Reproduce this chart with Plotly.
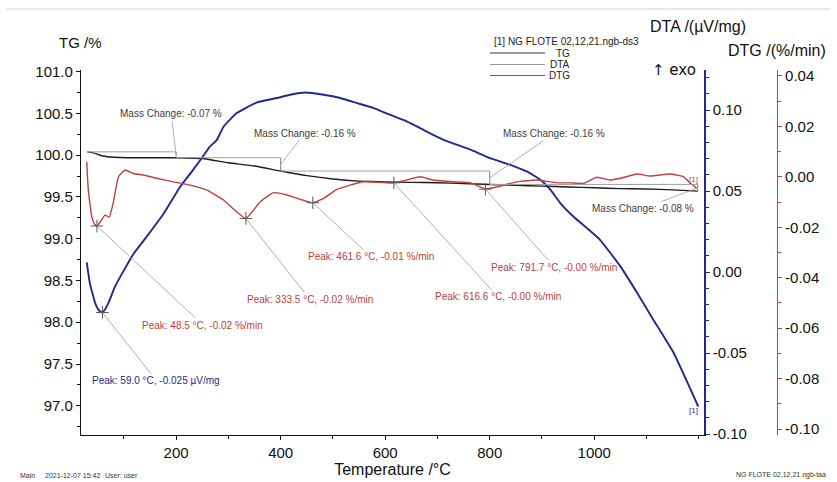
import plotly.graph_objects as go

# ---------------- data ----------------
# TG: mass (%) vs temperature (°C)
tg_temp = [30, 40, 50, 60, 80, 110, 150, 200, 250, 300, 350, 400, 450, 500, 550, 600,
           650, 700, 750, 800, 850, 900, 950, 1000, 1050, 1100, 1150, 1198]
tg_mass = [100.04, 100.03, 100.01, 99.99, 99.975, 99.97, 99.97, 99.97, 99.96, 99.91, 99.87,
           99.81, 99.755, 99.715, 99.69, 99.68, 99.675, 99.67, 99.66, 99.65, 99.64, 99.63,
           99.62, 99.61, 99.60, 99.595, 99.585, 99.57]

# DTA signal (µV/mg)
dta_temp = [29, 35, 45, 52, 59, 66, 72, 83, 99, 118, 144, 176, 208, 230, 246, 265, 278, 291,
            316, 354, 393, 418, 447, 482, 514, 546, 578, 610, 642, 673, 712, 763, 801, 839,
            871, 897, 916, 935, 960, 986, 1011, 1050, 1082, 1113, 1152, 1178, 1199]
dta_signal = [0.006, -0.007, -0.019, -0.0235, -0.025, -0.022, -0.018, -0.009, 0.0004, 0.011,
              0.022, 0.036, 0.0528, 0.062, 0.069, 0.0775, 0.0816, 0.0898, 0.0981, 0.1046,
              0.1074, 0.1094, 0.1108, 0.1094, 0.1074, 0.1043, 0.1012, 0.097, 0.0929, 0.0878,
              0.0816, 0.0755, 0.0703, 0.0662, 0.0621, 0.0569, 0.0508, 0.0426, 0.0343, 0.0271,
              0.0199, 0.0035, -0.0128, -0.0294, -0.050, -0.068, -0.083]

# DTG: rate of mass change (%/min)
dtg_temp = [29, 32, 38.7, 44, 48.5, 56, 64, 72, 80, 89.6, 102, 118, 137, 163, 195, 227, 259,
            290.5, 316, 333.5, 348, 361, 386, 412, 437, 461.6, 482, 507.6, 533, 558, 590,
            616.6, 635, 667, 692, 731, 763, 782, 791.7, 814, 852, 890, 929, 954, 979.5, 1005,
            1031, 1050, 1082, 1107, 1146, 1171, 1184, 1196]
dtg_rate = [0.0059, -0.0053, -0.0158, -0.0188, -0.0195, -0.0175, -0.0152, -0.0160, -0.0100,
            0.0, 0.0027, 0.0013, 0.0007, -0.0006, -0.0020, -0.0033, -0.0053, -0.0092, -0.0139,
            -0.0165, -0.0132, -0.0099, -0.0063, -0.0072, -0.0089, -0.0103, -0.0086, -0.0050,
            -0.0033, -0.0020, -0.0022, -0.0024, -0.0016, 0.0, -0.0013, -0.0020, -0.0024,
            -0.0040, -0.0049, -0.0040, -0.0020, -0.0013, -0.0024, -0.0024, -0.0026, -0.0002,
            -0.0013, -0.0006, 0.0011, 0.0003, 0.0011, 0.0, -0.0026, -0.0045]

# mass-change steps
step_bounds = [30, 200, 400, 800, 1198]
step_start_level = 100.04
step_changes = [-0.07, -0.16, -0.16, -0.08]

# evaluated peaks
dtg_peak_temp = [48.5, 333.5, 461.6, 616.6, 791.7]
dtg_peak_rate = [-0.0195, -0.0165, -0.0103, -0.0024, -0.0049]
dta_peak_temp = [59.0]
dta_peak_signal = [-0.025]

tg_ticks = [97.0, 97.5, 98.0, 98.5, 99.0, 99.5, 100.0, 100.5, 101.0]
dta_ticks = [-0.10, -0.05, 0.00, 0.05, 0.10]
dtg_ticks = [-0.10, -0.08, -0.06, -0.04, -0.02, 0.00, 0.02, 0.04]
temp_ticks = [200, 400, 600, 800, 1000]

# ---------------- styling ----------------
FONT = "Liberation Sans, Arial, sans-serif"
C_TG = "#1c1c1c"
C_DTA = "#23288f"
C_DTG = "#c0403c"

W, H = 837, 482
ML, MR, MT, MB = 81, 40, 70, 47
PW, PH = W - ML - MR, H - MT - MB


def px(x):
    return (x - ML) / PW


def py(y):
    return (H - MB - y) / PH


fig = go.Figure()

fig.add_trace(go.Scatter(x=tg_temp, y=tg_mass, mode="lines", yaxis="y",
                         line=dict(color=C_TG, width=1.4, shape="spline", smoothing=0.4),
                         showlegend=False, hoverinfo="skip"))
fig.add_trace(go.Scatter(x=dta_temp, y=dta_signal, mode="lines", yaxis="y2",
                         line=dict(color=C_DTA, width=1.9, shape="spline", smoothing=0.4),
                         showlegend=False, hoverinfo="skip"))
fig.add_trace(go.Scatter(x=dtg_temp, y=dtg_rate, mode="lines", yaxis="y3",
                         line=dict(color=C_DTG, width=1.4, shape="spline", smoothing=0.4),
                         showlegend=False, hoverinfo="skip"))

# peak cross markers
fig.add_trace(go.Scatter(x=dtg_peak_temp, y=dtg_peak_rate, mode="markers", yaxis="y3",
                         marker=dict(symbol="cross-thin", size=9,
                                     line=dict(color="#555555", width=1)),
                         showlegend=False, hoverinfo="skip"))
fig.add_trace(go.Scatter(x=dta_peak_temp, y=dta_peak_signal, mode="markers", yaxis="y2",
                         marker=dict(symbol="cross-thin", size=9,
                                     line=dict(color="#555555", width=1)),
                         showlegend=False, hoverinfo="skip"))

shapes = []
annotations = []

# mass-change step lines
levels = [step_start_level]
for d in step_changes:
    levels.append(round(levels[-1] + d, 4))
for i, d in enumerate(step_changes):
    x0, x1 = step_bounds[i], step_bounds[i + 1]
    shapes.append(dict(type="line", xref="x", yref="y", x0=x0, x1=x1,
                       y0=levels[i], y1=levels[i], line=dict(color="#a0a0a0", width=1)))
    shapes.append(dict(type="line", xref="x", yref="y", x0=x1, x1=x1,
                       y0=levels[i], y1=levels[i + 1], line=dict(color="#808080", width=1)))

# label offsets (pixels) of the mass-change texts from the step midpoints
mc_offsets = [(-5, -41), (24, -31), (64, -44), (-55, 21)]
for i, d in enumerate(step_changes):
    annotations.append(dict(
        x=step_bounds[i + 1], y=(levels[i] + levels[i + 1]) / 2, xref="x", yref="y",
        text=f"Mass Change: {d:.2f} %", showarrow=True, arrowhead=0, arrowwidth=0.8,
        arrowcolor="#9a9a9a", ax=mc_offsets[i][0], ay=mc_offsets[i][1], standoff=0,
        font=dict(family=FONT, size=10, color="#3c3c3c")))

# peak labels
pk_offsets = [(106, 99), (64, 81), (58, 54), (104, 114), (69, 78)]
for t, v, (ax, ay) in zip(dtg_peak_temp, dtg_peak_rate, pk_offsets):
    annotations.append(dict(
        x=t, y=v, xref="x", yref="y3",
        text=f"Peak: {t:.1f} °C, {v:.2f} %/min", showarrow=True, arrowhead=0,
        arrowwidth=0.8, arrowcolor="#9a9a9a", ax=ax, ay=ay, standoff=0,
        font=dict(family=FONT, size=10, color=C_DTG)))
for t, v in zip(dta_peak_temp, dta_peak_signal):
    annotations.append(dict(
        x=t, y=v, xref="x", yref="y2",
        text=f"Peak: {t:.1f} °C, {v:.3f} µV/mg", showarrow=True, arrowhead=0,
        arrowwidth=0.8, arrowcolor="#9a9a9a", ax=54, ay=68, standoff=0,
        font=dict(family=FONT, size=10, color=C_DTA)))

# curve end tags
annotations.append(dict(x=tg_temp[-1], y=dtg_rate[-1], xref="x", yref="y3", text="[1]",
                        showarrow=False, yshift=9, xshift=-4,
                        font=dict(family=FONT, size=8, color=C_DTG)))
annotations.append(dict(x=dta_temp[-1], y=dta_signal[-1], xref="x", yref="y2", text="[1]",
                        showarrow=False, yshift=-4, xshift=-5,
                        font=dict(family=FONT, size=8, color=C_DTA)))


# captions placed in page pixels
def txt(x, y, s, size, color="#111111", anchor="center", family=FONT):
    annotations.append(dict(x=px(x), y=py(y), xref="paper", yref="paper", text=s,
                            showarrow=False, xanchor=anchor, yanchor="middle",
                            font=dict(family=family, size=size, color=color)))


txt(80, 43, "TG /%", 15)
txt(698, 27, "DTA /(µV/mg)", 16)
txt(777, 50, "DTG /(%/min)", 16)
txt(674, 70, "↑ exo", 15, family="DejaVu Sans, " + FONT)

# series key
txt(566, 41, "[1] NG FLOTE 02,12,21.ngb-ds3", 10, color="#222222")
for name, color, yy in [("TG", "#333333", 53), ("DTA", "#9a9a9a", 64.5), ("DTG", C_DTG, 75.5)]:
    shapes.append(dict(type="line", xref="paper", yref="paper", x0=px(490), x1=px(545),
                       y0=py(yy), y1=py(yy), line=dict(color=color, width=1)))
    txt(572, yy, name, 10, color="#222222", anchor="right")

# footer
txt(18, 475, "Main", 7, color="#333333", anchor="left")
txt(43, 475, "2021-12-07 15:42", 7, color="#333333", anchor="left")
txt(103, 475, "User: user", 7, color="#333333", anchor="left")
txt(828, 475, "NG FLOTE 02,12,21.ngb-taa", 7, color="#333333", anchor="right")

# header rule
shapes.append(dict(type="line", xref="paper", yref="paper", x0=px(7), x1=px(830),
                   y0=py(9), y1=py(9), line=dict(color="#cfcfcf", width=1)))

tickfont = dict(family=FONT, size=15, color="#111111")

fig.update_layout(
    width=W, height=H,
    margin=dict(l=ML, r=MR, t=MT, b=MB, autoexpand=False),
    paper_bgcolor="white", plot_bgcolor="white",
    showlegend=False,
    xaxis=dict(domain=[0, px(704)], range=[18, 1210], tickvals=temp_ticks,
               ticktext=[str(t) for t in temp_ticks],
               showline=True, linecolor="#111111", linewidth=1.2, ticks="outside",
               ticklen=4, tickcolor="#111111", showgrid=False, zeroline=False,
               tickfont=tickfont,
               minor=dict(tickmode="linear", tick0=0, dtick=100, ticks="outside",
                          ticklen=3, tickcolor="#111111", showgrid=False),
               title=dict(text="Temperature /°C", font=dict(family=FONT, size=16,
                                                             color="#111111"), standoff=2)),
    yaxis=dict(range=[96.65, 101.02], tickvals=tg_ticks,
               ticktext=[f"{t:.1f}" for t in tg_ticks],
               showline=True, linecolor="#111111", linewidth=1.2, ticks="outside",
               ticklen=4, tickcolor="#111111", showgrid=False, zeroline=False,
               tickfont=tickfont,
               minor=dict(tickmode="linear", tick0=0, dtick=0.25, ticks="outside",
                          ticklen=3, tickcolor="#111111", showgrid=False)),
    yaxis2=dict(range=[-0.1006, 0.1247], overlaying="y", side="right", anchor="x",
                tickvals=dta_ticks, ticktext=[f"{t:.2f}" for t in dta_ticks],
                showline=True, linecolor=C_DTA, linewidth=1.5, ticks="outside",
                ticklen=4, tickcolor=C_DTA, showgrid=False, zeroline=False,
                tickfont=tickfont,
                minor=dict(tickmode="linear", tick0=0, dtick=0.01, ticks="outside",
                           ticklen=3, tickcolor=C_DTA, showgrid=False)),
    yaxis3=dict(range=[-0.1023, 0.0423], overlaying="y", side="right", anchor="free",
                position=px(777), tickvals=dtg_ticks,
                ticktext=[f"{t:.2f}" for t in dtg_ticks],
                showline=True, linecolor=C_DTG, linewidth=1.2, ticks="outside",
                ticklen=4, tickcolor=C_DTG, showgrid=False, zeroline=False,
                tickfont=tickfont,
                minor=dict(tickmode="linear", tick0=0, dtick=0.01, ticks="outside",
                           ticklen=3, tickcolor=C_DTG, showgrid=False)),
    shapes=shapes,
    annotations=annotations,
)

fig.write_html("out.html")
